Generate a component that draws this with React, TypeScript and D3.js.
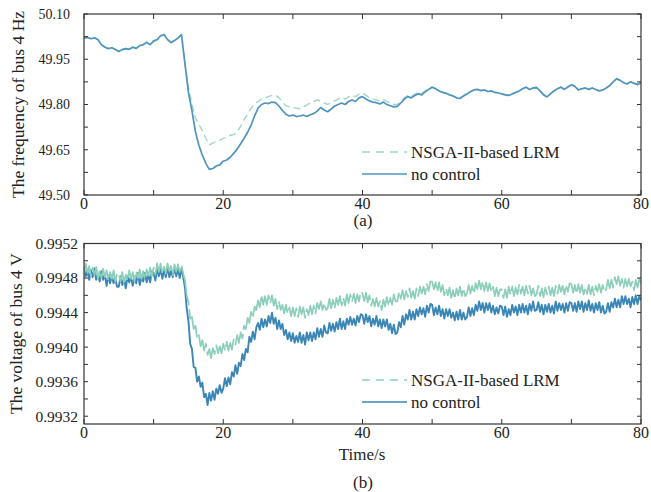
import React from 'react';
import * as d3 from 'd3';

// frequency sampled every 0.5 s, voltage every 0.25 s, both from 0 to 80 s
const freqStep = 0.5;
const voltStep = 0.25;

const freqNoControl = [
  50.020, 50.022, 50.018, 50.021, 50.015, 49.998, 49.990, 49.985, 49.988, 49.982,
  49.976, 49.982, 49.985, 49.983, 49.990, 49.986, 49.995, 49.998, 50.006, 49.998,
  50.010, 50.015, 50.028, 50.032, 50.015, 50.005, 50.012, 50.020, 50.032, 49.935,
  49.840, 49.780, 49.710, 49.665, 49.632, 49.605, 49.585, 49.588, 49.596, 49.600,
  49.612, 49.616, 49.625, 49.638, 49.652, 49.670, 49.688, 49.708, 49.732, 49.762,
  49.788, 49.800, 49.805, 49.803, 49.808, 49.806, 49.795, 49.780, 49.768, 49.762,
  49.765, 49.760, 49.762, 49.765, 49.760, 49.766, 49.770, 49.778, 49.790, 49.782,
  49.776, 49.785, 49.795, 49.800, 49.805, 49.800, 49.810, 49.815, 49.810, 49.822,
  49.826, 49.818, 49.812, 49.808, 49.806, 49.802, 49.808, 49.800, 49.796, 49.792,
  49.794, 49.805, 49.818, 49.826, 49.822, 49.830, 49.836, 49.832, 49.842, 49.850,
  49.857, 49.852, 49.845, 49.840, 49.837, 49.832, 49.828, 49.822, 49.820, 49.828,
  49.835, 49.842, 49.848, 49.850, 49.846, 49.848, 49.843, 49.845, 49.840, 49.838,
  49.835, 49.832, 49.830, 49.835, 49.840, 49.845, 49.852, 49.857, 49.850, 49.855,
  49.856, 49.845, 49.832, 49.825, 49.835, 49.845, 49.852, 49.857, 49.850, 49.858,
  49.865, 49.860, 49.848, 49.852, 49.855, 49.850, 49.855, 49.850, 49.845, 49.848,
  49.855, 49.862, 49.875, 49.885, 49.880, 49.872, 49.868, 49.875, 49.870, 49.866,
  49.872,
];

const freqLRM = [
  50.021, 50.023, 50.019, 50.022, 50.016, 49.999, 49.991, 49.986, 49.989, 49.983,
  49.977, 49.983, 49.986, 49.984, 49.991, 49.987, 49.996, 49.999, 50.007, 49.999,
  50.012, 50.016, 50.027, 50.031, 50.016, 50.006, 50.013, 50.021, 50.031, 49.938,
  49.855, 49.800, 49.755, 49.735, 49.712, 49.688, 49.666, 49.672, 49.678, 49.682,
  49.688, 49.693, 49.698, 49.700, 49.708, 49.728, 49.750, 49.768, 49.788, 49.802,
  49.810, 49.818, 49.822, 49.826, 49.830, 49.831, 49.822, 49.808, 49.796, 49.792,
  49.790, 49.788, 49.786, 49.792, 49.798, 49.805, 49.810, 49.815, 49.812, 49.805,
  49.800, 49.806, 49.812, 49.818, 49.822, 49.818, 49.825, 49.830, 49.826, 49.835,
  49.838, 49.830, 49.822, 49.818, 49.815, 49.812, 49.816, 49.810, 49.805, 49.800,
  49.800, 49.810, 49.822, 49.830, 49.826, 49.834, 49.840, 49.836, 49.845, 49.852,
  49.858, 49.853, 49.846, 49.841, 49.838, 49.833, 49.829, 49.823, 49.821, 49.829,
  49.836, 49.843, 49.849, 49.851, 49.847, 49.849, 49.844, 49.846, 49.841, 49.839,
  49.836, 49.833, 49.831, 49.836, 49.841, 49.846, 49.853, 49.858, 49.851, 49.856,
  49.857, 49.846, 49.833, 49.826, 49.836, 49.846, 49.853, 49.858, 49.851, 49.859,
  49.866, 49.861, 49.849, 49.853, 49.856, 49.851, 49.856, 49.851, 49.846, 49.849,
  49.856, 49.863, 49.876, 49.886, 49.881, 49.873, 49.869, 49.876, 49.871, 49.867,
  49.873,
];

const voltNoControl = [
  0.99492, 0.99482, 0.99488, 0.99478, 0.99489, 0.99481, 0.99491, 0.99478, 0.99484, 0.99476, 0.99488, 0.99478, 0.99484, 0.99471, 0.99483, 0.99474, 0.99483, 0.99474, 0.99479, 0.99470,
  0.99470, 0.99482, 0.99472, 0.99480, 0.99468, 0.99482, 0.99475, 0.99482, 0.99471, 0.99481, 0.99474, 0.99486, 0.99472, 0.99481, 0.99476, 0.99486, 0.99475, 0.99484, 0.99475, 0.99488,
  0.99486, 0.99477, 0.99491, 0.99482, 0.99491, 0.99479, 0.99490, 0.99481, 0.99493, 0.99481, 0.99488, 0.99481, 0.99492, 0.99482, 0.99491, 0.99480, 0.99491, 0.99481, 0.99469, 0.99445,
  0.99430, 0.99404, 0.99398, 0.99377, 0.99376, 0.99360, 0.99366, 0.99354, 0.99359, 0.99342, 0.99346, 0.99333, 0.99347, 0.99338, 0.99349, 0.99339, 0.99352, 0.99346, 0.99356, 0.99347,
  0.99352, 0.99364, 0.99355, 0.99365, 0.99357, 0.99371, 0.99366, 0.99379, 0.99369, 0.99382, 0.99378, 0.99392, 0.99385, 0.99398, 0.99394, 0.99412, 0.99406, 0.99418, 0.99409, 0.99423,
  0.99428, 0.99420, 0.99433, 0.99423, 0.99432, 0.99424, 0.99436, 0.99428, 0.99440, 0.99427, 0.99434, 0.99421, 0.99431, 0.99421, 0.99427, 0.99414, 0.99420, 0.99409, 0.99417, 0.99407,
  0.99416, 0.99405, 0.99413, 0.99406, 0.99417, 0.99405, 0.99414, 0.99403, 0.99417, 0.99408, 0.99417, 0.99407, 0.99417, 0.99409, 0.99422, 0.99412, 0.99421, 0.99412, 0.99425, 0.99417,
  0.99416, 0.99428, 0.99419, 0.99427, 0.99418, 0.99429, 0.99421, 0.99433, 0.99421, 0.99430, 0.99421, 0.99433, 0.99426, 0.99435, 0.99426, 0.99433, 0.99425, 0.99436, 0.99429, 0.99438,
  0.99437, 0.99427, 0.99438, 0.99429, 0.99436, 0.99424, 0.99433, 0.99426, 0.99436, 0.99424, 0.99432, 0.99422, 0.99432, 0.99424, 0.99432, 0.99420, 0.99427, 0.99416, 0.99426, 0.99415,
  0.99417, 0.99429, 0.99423, 0.99436, 0.99426, 0.99438, 0.99432, 0.99443, 0.99432, 0.99441, 0.99432, 0.99444, 0.99436, 0.99446, 0.99438, 0.99445, 0.99435, 0.99448, 0.99440, 0.99450,
  0.99449, 0.99437, 0.99446, 0.99438, 0.99448, 0.99436, 0.99444, 0.99433, 0.99444, 0.99436, 0.99444, 0.99434, 0.99440, 0.99431, 0.99441, 0.99432, 0.99443, 0.99432, 0.99440, 0.99432,
  0.99435, 0.99446, 0.99436, 0.99445, 0.99437, 0.99449, 0.99442, 0.99453, 0.99443, 0.99451, 0.99440, 0.99451, 0.99443, 0.99451, 0.99440, 0.99448, 0.99438, 0.99446, 0.99439, 0.99448,
  0.99447, 0.99437, 0.99447, 0.99435, 0.99444, 0.99437, 0.99449, 0.99440, 0.99447, 0.99437, 0.99449, 0.99440, 0.99450, 0.99440, 0.99448, 0.99438, 0.99450, 0.99442, 0.99453, 0.99442,
  0.99443, 0.99452, 0.99441, 0.99449, 0.99438, 0.99449, 0.99441, 0.99450, 0.99440, 0.99448, 0.99439, 0.99453, 0.99442, 0.99451, 0.99443, 0.99450, 0.99440, 0.99451, 0.99442, 0.99452,
  0.99451, 0.99442, 0.99451, 0.99441, 0.99453, 0.99444, 0.99453, 0.99441, 0.99451, 0.99443, 0.99454, 0.99442, 0.99450, 0.99440, 0.99451, 0.99443, 0.99452, 0.99440, 0.99448, 0.99439,
  0.99441, 0.99451, 0.99441, 0.99452, 0.99446, 0.99456, 0.99446, 0.99455, 0.99446, 0.99459, 0.99450, 0.99459, 0.99450, 0.99456, 0.99446, 0.99458, 0.99450, 0.99460, 0.99450, 0.99459,
  0.99454,
];

const voltLRM = [
  0.99485, 0.99497, 0.99486, 0.99494, 0.99482, 0.99492, 0.99483, 0.99493, 0.99479, 0.99489, 0.99480, 0.99491, 0.99481, 0.99489, 0.99477, 0.99487, 0.99479, 0.99489, 0.99476, 0.99485,
  0.99485, 0.99476, 0.99487, 0.99475, 0.99484, 0.99477, 0.99489, 0.99479, 0.99487, 0.99476, 0.99488, 0.99480, 0.99490, 0.99479, 0.99488, 0.99479, 0.99490, 0.99483, 0.99492, 0.99482,
  0.99492, 0.99484, 0.99497, 0.99487, 0.99497, 0.99485, 0.99493, 0.99485, 0.99497, 0.99488, 0.99494, 0.99483, 0.99496, 0.99487, 0.99496, 0.99487, 0.99495, 0.99485, 0.99478, 0.99460,
  0.99452, 0.99433, 0.99435, 0.99421, 0.99425, 0.99410, 0.99414, 0.99401, 0.99408, 0.99396, 0.99404, 0.99391, 0.99398, 0.99387, 0.99399, 0.99392, 0.99402, 0.99393, 0.99401, 0.99393,
  0.99404, 0.99396, 0.99406, 0.99396, 0.99405, 0.99397, 0.99409, 0.99403, 0.99414, 0.99405, 0.99417, 0.99410, 0.99425, 0.99421, 0.99434, 0.99428, 0.99441, 0.99434, 0.99447, 0.99443,
  0.99454, 0.99446, 0.99460, 0.99449, 0.99459, 0.99449, 0.99460, 0.99451, 0.99460, 0.99448, 0.99456, 0.99444, 0.99453, 0.99443, 0.99449, 0.99439, 0.99449, 0.99439, 0.99446, 0.99436,
  0.99446, 0.99436, 0.99445, 0.99435, 0.99447, 0.99438, 0.99446, 0.99434, 0.99444, 0.99437, 0.99448, 0.99438, 0.99448, 0.99439, 0.99451, 0.99444, 0.99453, 0.99443, 0.99451, 0.99443,
  0.99445, 0.99456, 0.99445, 0.99455, 0.99445, 0.99457, 0.99449, 0.99459, 0.99448, 0.99457, 0.99448, 0.99461, 0.99451, 0.99461, 0.99453, 0.99462, 0.99451, 0.99461, 0.99453, 0.99464,
  0.99462, 0.99453, 0.99463, 0.99452, 0.99460, 0.99448, 0.99456, 0.99447, 0.99457, 0.99447, 0.99453, 0.99443, 0.99455, 0.99447, 0.99458, 0.99448, 0.99457, 0.99449, 0.99461, 0.99453,
  0.99453, 0.99464, 0.99456, 0.99466, 0.99455, 0.99465, 0.99458, 0.99468, 0.99457, 0.99465, 0.99456, 0.99468, 0.99459, 0.99470, 0.99462, 0.99470, 0.99461, 0.99473, 0.99465, 0.99476,
  0.99476, 0.99467, 0.99475, 0.99464, 0.99475, 0.99464, 0.99472, 0.99460, 0.99468, 0.99460, 0.99469, 0.99457, 0.99466, 0.99456, 0.99468, 0.99460, 0.99470, 0.99459, 0.99468, 0.99459,
  0.99462, 0.99472, 0.99462, 0.99471, 0.99462, 0.99474, 0.99467, 0.99477, 0.99467, 0.99476, 0.99465, 0.99475, 0.99465, 0.99474, 0.99464, 0.99470, 0.99459, 0.99469, 0.99459, 0.99467,
  0.99467, 0.99457, 0.99467, 0.99457, 0.99470, 0.99461, 0.99470, 0.99459, 0.99469, 0.99461, 0.99472, 0.99462, 0.99470, 0.99460, 0.99471, 0.99462, 0.99471, 0.99460, 0.99468, 0.99459,
  0.99461, 0.99471, 0.99459, 0.99468, 0.99458, 0.99469, 0.99461, 0.99470, 0.99460, 0.99469, 0.99459, 0.99471, 0.99462, 0.99472, 0.99464, 0.99471, 0.99461, 0.99472, 0.99464, 0.99474,
  0.99473, 0.99463, 0.99472, 0.99462, 0.99473, 0.99463, 0.99472, 0.99461, 0.99469, 0.99462, 0.99472, 0.99461, 0.99470, 0.99460, 0.99471, 0.99464, 0.99473, 0.99463, 0.99472, 0.99464,
  0.99467, 0.99478, 0.99468, 0.99478, 0.99469, 0.99481, 0.99473, 0.99482, 0.99471, 0.99479, 0.99469, 0.99479, 0.99470, 0.99479, 0.99470, 0.99476, 0.99466, 0.99478, 0.99469, 0.99479,
  0.99474,
];

const xTicks = [0, 10, 20, 30, 40, 50, 60, 70, 80];
const xTickLabels = [0, 20, 40, 60, 80];
const freqTickLabels = ['49.50', '49.65', '49.80', '49.95', '50.10'];
const voltTickLabels = ['0.9932', '0.9936', '0.9940', '0.9944', '0.9948', '0.9952'];
const seriesNames = ['NSGA-II-based LRM', 'no control'];

const FONT = '"Liberation Serif", "Times New Roman", serif';
const LEFT = 84;
const RIGHT = 641;

const Panel = ({ top, bottom, domain, minor, tickLabels, tickFont, tickRight, step,
  lrm, base, lrmColor, baseColor, lrmOnTop, lrmWidth, baseWidth, yLabel, labelX, legendY, dash }) => {
  const x = d3.scaleLinear().domain([0, 80]).range([LEFT, RIGHT]);
  const y = d3.scaleLinear().domain(domain).range([bottom, top]);
  const line = d3.line<number>().x((d, i) => x(i * step)).y(d => y(d));
  const minorTicks = d3.range(0, 12).map(i => +(+tickLabels[0] + i * minor).toFixed(5))
    .filter(v => v >= domain[0] - 1e-9 && v <= domain[1] + 1e-9);

  const lrmPath = <path d={line(lrm) || ''} fill="none" stroke={lrmColor} strokeWidth={lrmWidth}
    strokeDasharray={dash} strokeLinejoin="round" />;
  const basePath = <path d={line(base) || ''} fill="none" stroke={baseColor} strokeWidth={baseWidth}
    strokeLinejoin="round" />;

  return (
    <g>
      <defs>
        <clipPath id={`clip${Math.round(top)}`}>
          <rect x={LEFT} y={top} width={RIGHT - LEFT} height={bottom - top} />
        </clipPath>
      </defs>
      <g clipPath={`url(#clip${Math.round(top)})`}>
        {lrmOnTop ? basePath : lrmPath}
        {lrmOnTop ? lrmPath : basePath}
      </g>
      <rect x={LEFT} y={top} width={RIGHT - LEFT} height={bottom - top} fill="none"
        stroke="#333" strokeWidth={1.2} />
      {xTicks.map(t => (
        <g key={t}>
          <line x1={x(t)} x2={x(t)} y1={bottom} y2={bottom - 5} stroke="#333" />
          <line x1={x(t)} x2={x(t)} y1={top} y2={top + 5} stroke="#333" />
        </g>
      ))}
      {minorTicks.map(v => (
        <g key={v}>
          <line x1={LEFT} x2={LEFT + 4} y1={y(v)} y2={y(v)} stroke="#333" />
          <line x1={RIGHT} x2={RIGHT - 4} y1={y(v)} y2={y(v)} stroke="#333" />
        </g>
      ))}
      {tickLabels.map(l => (
        <text key={l} x={tickRight} y={y(+l)} dy="0.35em" textAnchor="end"
          fontFamily={FONT} fontSize={tickFont} fill="#222">{l}</text>
      ))}
      {xTickLabels.map(t => (
        <text key={t} x={x(t)} y={bottom + 14} textAnchor="middle"
          fontFamily={FONT} fontSize={16} fill="#222">{t}</text>
      ))}
      <text transform={`translate(${labelX},${(top + bottom) / 2}) rotate(-90)`}
        textAnchor="middle" dy="0.35em" fontFamily={FONT} fontSize={17.5} fill="#222">{yLabel}</text>
      {seriesNames.map((s, i) => (
        <g key={s}>
          <line x1={362} x2={407} y1={legendY + i * 22} y2={legendY + i * 22}
            stroke={i === 0 ? lrmColor : baseColor} strokeWidth={1.4}
            strokeDasharray={i === 0 ? '8,6' : undefined} />
          <text x={411} y={legendY + i * 22} dy="0.35em" fontFamily={FONT}
            fontSize={17} fill="#222">{s}</text>
        </g>
      ))}
    </g>
  );
};

export default function App() {
  return (
    <svg width={651} height={492} style={{ display: 'block', position: 'absolute', left: 0, top: 0 }}>
      <rect width={651} height={492} fill="#fff" />
      <Panel top={14} bottom={195} domain={[49.5, 50.1]} minor={0.075} step={freqStep}
        tickLabels={freqTickLabels} tickFont={14} tickRight={70}
        lrm={freqLRM} base={freqNoControl} lrmColor="#9fd6c8" baseColor="#4f94bf"
        lrmOnTop={false} lrmWidth={1.4} baseWidth={1.7}
        yLabel="The frequency of bus 4 Hz" labelX={18} legendY={152} dash="7,4" />
      <Panel top={243.5} bottom={424} domain={[0.99311, 0.9952]} minor={0.0002} step={voltStep}
        tickLabels={voltTickLabels} tickFont={15.5} tickRight={78}
        lrm={voltLRM} base={voltNoControl} lrmColor="#8bcfbb" baseColor="#3a86b6"
        lrmOnTop={true} lrmWidth={1.7} baseWidth={1.9}
        yLabel="The voltage of bus 4 V" labelX={16} legendY={380} dash="40,4" />
      <text x={363} y={226} textAnchor="middle" fontFamily={FONT} fontSize={17} fill="#222">(a)</text>
      <text x={362} y={460} textAnchor="middle" fontFamily={FONT} fontSize={17} fill="#222">Time/s</text>
      <text x={363} y={488} textAnchor="middle" fontFamily={FONT} fontSize={17} fill="#222">(b)</text>
    </svg>
  );
}
